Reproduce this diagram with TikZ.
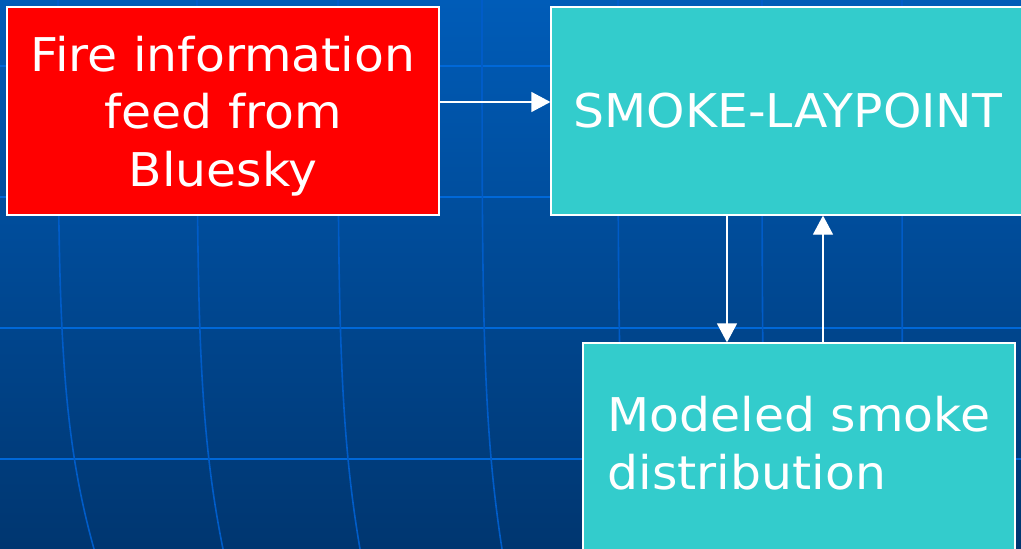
\documentclass[tikz,border=0pt]{standalone}
\usepackage{fontspec}
\setmainfont{DejaVu Sans}[FakeStretch=1.05]
\usetikzlibrary{arrows.meta,positioning}
\definecolor{bgtop}{RGB}{0,92,184}
\definecolor{bgbot}{RGB}{0,54,112}
\definecolor{gridblue}{RGB}{0,104,216}
\definecolor{meridblue}{RGB}{0,92,200}
\definecolor{boxcyan}{RGB}{51,204,204}

\begin{document}
\begin{tikzpicture}[x=1pt,y=-1pt,
	box/.style={draw=white,line width=1.2pt,text=white,inner sep=0pt,font=\fontsize{46.5}{57.5}\selectfont},
	flow/.style={draw=white,line width=1.2pt,-{Triangle[width=20pt,length=19pt]}},
	gridline/.style={gridblue,line width=1.8pt},
	meridian/.style={meridblue,line width=1.6pt}]
			\clip (0,0) rectangle (1021,549);
			\shade[top color=bgtop,bottom color=bgbot] (0,0) rectangle (1021,549);
			
			\foreach \gy in {66,197,328,459}
				\draw[gridline] (0,\gy) -- (1021,\gy);
			\foreach \gx/\dx in {58/36,197/26,338/22,482/20,618/12,762/6,902/2}
				\draw[meridian] (\gx,0) .. controls (\gx,300) and (\gx,420) .. (\gx+\dx,549);
			
			\node[box,fill=red,minimum width=432pt,minimum height=208pt,align=center,text depth=0pt] (feed) at (223,111) {Fire information\\feed from\\Bluesky};
			\node[box,fill=boxcyan,minimum width=474pt,minimum height=208pt] (laypoint) at (788,111) {SMOKE-LAYPOINT};
			\node[box,fill=boxcyan,minimum width=432pt,minimum height=209pt,align=left,text depth=9pt] (smoke) at (799,447.5) {Modeled smoke\\distribution};
			
			\draw[flow] ([yshift=9pt]feed.east) -- ([yshift=9pt]laypoint.west);
			\draw[flow] ([xshift=-61pt]laypoint.south) -- ([xshift=-61pt]laypoint.south |- smoke.north);
			\draw[flow] ([xshift=35pt]laypoint.south |- smoke.north) -- ([xshift=35pt]laypoint.south);
\end{tikzpicture}
\end{document}
